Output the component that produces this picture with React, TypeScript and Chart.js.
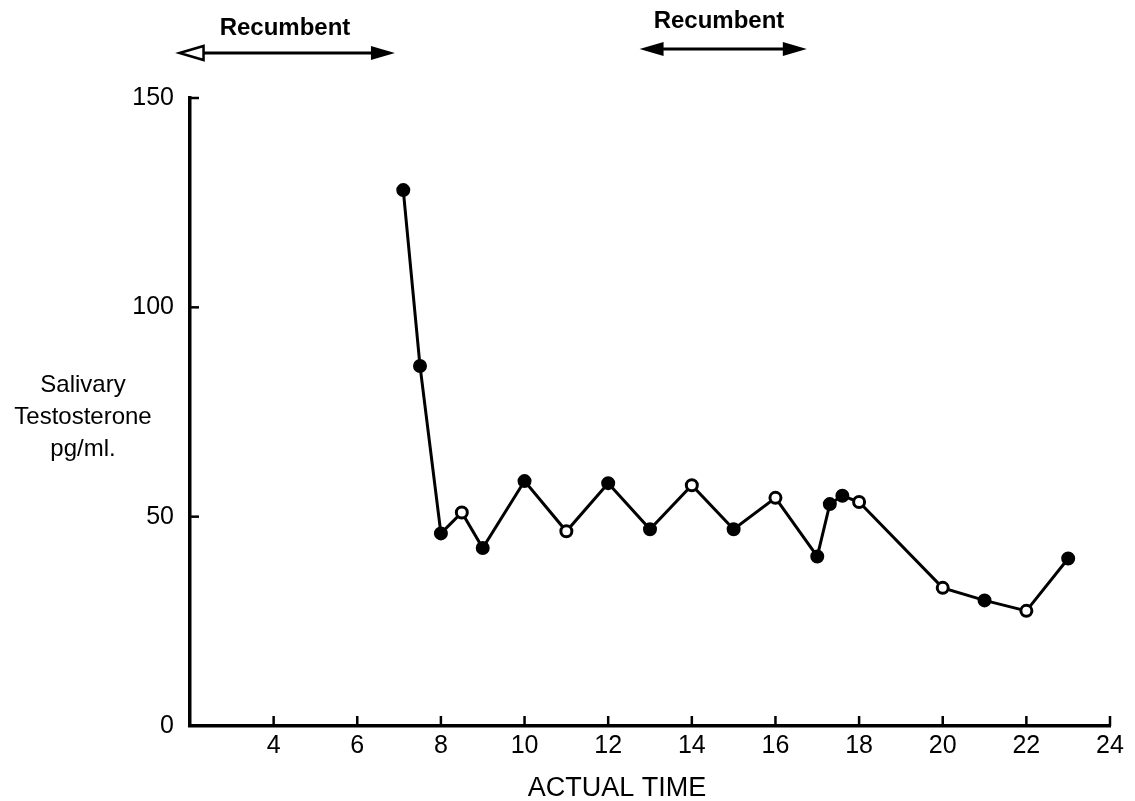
import React, { useEffect, useRef } from 'react';
import { Chart, registerables } from 'chart.js';

Chart.register(...registerables);

// Sample times (hours, actual time of day)
const TIMES = [7.1, 7.5, 8, 8.5, 9, 10, 11, 12, 13, 14, 15, 16, 17, 17.3, 17.6, 18, 20, 21, 22, 23];
// Salivary testosterone, pg/ml
const TESTOSTERONE = [128, 86, 46, 51, 42.5, 58.5, 46.5, 58, 47, 57.5, 47, 54.5, 40.5, 53, 55, 53.5, 33, 30, 27.5, 40];
// true = filled marker, false = open marker
const FILLED = [true, true, true, false, true, true, false, true, true, false, true, false, true, true, true, false, false, true, false, true];

const X_TICKS = [4, 6, 8, 10, 12, 14, 16, 18, 20, 22, 24];
const Y_TICKS = [0, 50, 100, 150];

// Recumbent periods (start, end) in hours
const RECUMBENT_1 = [1.75, 6.9];
const RECUMBENT_2 = [12.75, 16.75];

const Y_TITLE = ['Salivary', 'Testosterone', 'pg/ml.'];
const X_TITLE = 'ACTUAL TIME';
const PERIOD_LABEL = 'Recumbent';

const FONT = "'Liberation Sans', Arial, Helvetica, sans-serif";

function drawArrow(ctx: CanvasRenderingContext2D, x1: number, x2: number, y: number, leftOpen: boolean) {
  const hl = 24;
  const hh = 7;
  ctx.lineWidth = 3;
  ctx.strokeStyle = '#000';
  ctx.fillStyle = '#000';
  ctx.beginPath();
  ctx.moveTo(x1 + hl - 2, y);
  ctx.lineTo(x2 - hl + 2, y);
  ctx.stroke();
  // right head (filled)
  ctx.beginPath();
  ctx.moveTo(x2, y);
  ctx.lineTo(x2 - hl, y - hh);
  ctx.lineTo(x2 - hl, y + hh);
  ctx.closePath();
  ctx.fill();
  // left head
  ctx.beginPath();
  ctx.moveTo(x1, y);
  ctx.lineTo(x1 + hl, y - hh);
  ctx.lineTo(x1 + hl, y + hh);
  ctx.closePath();
  if (leftOpen) {
    ctx.fillStyle = '#fff';
    ctx.fill();
    ctx.lineWidth = 2.5;
    ctx.stroke();
    ctx.fillStyle = '#000';
  } else {
    ctx.fill();
  }
}

const decorPlugin = {
  id: 'decor',
  afterDraw(chart: any) {
    const { ctx, chartArea, scales } = chart;
    const x = scales.x;
    const y = scales.y;
    ctx.save();
    ctx.strokeStyle = '#000';
    ctx.lineWidth = 2.5;
    // inner tick marks
    X_TICKS.forEach((v) => {
      const px = x.getPixelForValue(v);
      ctx.beginPath();
      ctx.moveTo(px, chartArea.bottom);
      ctx.lineTo(px, chartArea.bottom - 10);
      ctx.stroke();
    });
    Y_TICKS.forEach((v) => {
      if (v === 0) return;
      const py = y.getPixelForValue(v);
      ctx.beginPath();
      ctx.moveTo(chartArea.left, py);
      ctx.lineTo(chartArea.left + 9, py);
      ctx.stroke();
    });

    // y title (horizontal, three lines)
    ctx.fillStyle = '#000';
    ctx.textAlign = 'center';
    ctx.textBaseline = 'alphabetic';
    ctx.font = `24px ${FONT}`;
    Y_TITLE.forEach((t, i) => {
      ctx.fillText(t, 83, 392 + i * 32);
    });

    // x title
    ctx.font = `27px ${FONT}`;
    ctx.fillText(X_TITLE, 617, 796);

    // recumbent arrows
    const a1 = x.getPixelForValue(RECUMBENT_1[0]);
    const b1 = x.getPixelForValue(RECUMBENT_1[1]);
    const a2 = x.getPixelForValue(RECUMBENT_2[0]);
    const b2 = x.getPixelForValue(RECUMBENT_2[1]);
    ctx.font = `bold 24px ${FONT}`;
    ctx.fillText(PERIOD_LABEL, 285, 35);
    ctx.fillText(PERIOD_LABEL, 719, 28);
    drawArrow(ctx, a1, b1, 53, true);
    drawArrow(ctx, a2, b2, 49, false);
    ctx.restore();
  },
};

export default function App() {
  const canvasRef = useRef<HTMLCanvasElement | null>(null);

  useEffect(() => {
    if (!canvasRef.current) return;
    const chart = new Chart(canvasRef.current, {
      type: 'line',
      data: {
        datasets: [
          {
            data: TIMES.map((t, i) => ({ x: t, y: TESTOSTERONE[i] })),
            borderColor: '#000',
            borderWidth: 3,
            tension: 0,
            pointRadius: 5.5,
            pointBorderWidth: 3,
            pointBorderColor: '#000',
            pointBackgroundColor: FILLED.map((f) => (f ? '#000' : '#fff')),
            fill: false,
          },
        ],
      },
      options: {
        animation: false,
        responsive: true,
        maintainAspectRatio: false,
        layout: { padding: { left: 0, top: 98, right: 25, bottom: 0 } },
        plugins: { legend: { display: false }, tooltip: { enabled: false } },
        scales: {
          x: {
            type: 'linear',
            min: 2,
            max: 24,
            afterFit: (s: any) => {
              s.height = 75;
            },
            afterBuildTicks: (s: any) => {
              s.ticks = X_TICKS.map((v) => ({ value: v }));
            },
            ticks: {
              color: '#000',
              font: { family: FONT, size: 25 },
              padding: 5,
              maxRotation: 0,
              autoSkip: false,
            },
            grid: { display: true, drawOnChartArea: false, drawTicks: false },
            border: { display: true, color: '#000', width: 3.5 },
          },
          y: {
            min: 0,
            max: 150,
            afterFit: (s: any) => {
              s.width = 190;
            },
            afterBuildTicks: (s: any) => {
              s.ticks = Y_TICKS.map((v) => ({ value: v }));
            },
            ticks: {
              color: '#000',
              font: { family: FONT, size: 25 },
              padding: 16,
            },
            grid: { display: true, drawOnChartArea: false, drawTicks: false },
            border: { display: true, color: '#000', width: 3.5 },
          },
        },
      },
      plugins: [decorPlugin],
    });
    return () => chart.destroy();
  }, []);

  return (
    <div style={{ position: 'fixed', left: 0, top: 0, width: 1135, height: 801, background: '#fff' }}>
      <canvas ref={canvasRef} />
    </div>
  );
}
